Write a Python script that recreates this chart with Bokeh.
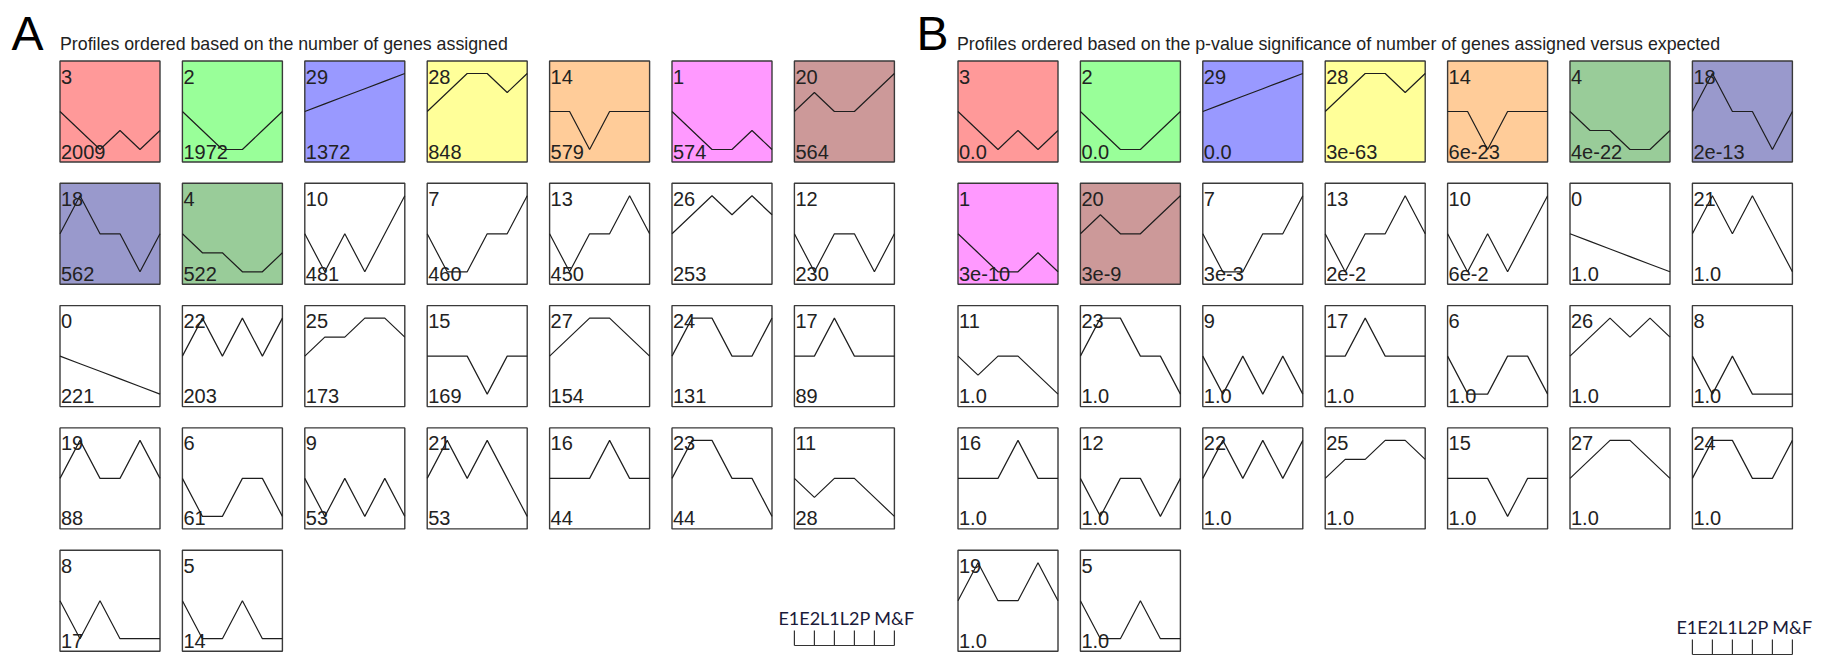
from bokeh.plotting import figure
from bokeh.models import Range1d
from bokeh.core.properties import value
from bokeh.embed import file_html
from bokeh.resources import INLINE

# ---- data -------------------------------------------------------------
TIME_LABELS = ["E1", "E2", "L1", "L2", "P", "M&F"]

# model profile shapes, indexed by profile id (6 time points each)
profile_values = [
    [0, -0.4, -0.8, -1.2, -1.6, -2],   # 0
    [0, -1, -2, -2, -1, -2],           # 1
    [0, -1, -2, -2, -1, 0],            # 2
    [0, -1, -2, -1, -2, -1],           # 3
    [0, -1, -1, -2, -2, -1],           # 4
    [0, -2, -2, 0, -2, -2],            # 5
    [0, -2, -2, 0, 0, -2],             # 6
    [0, -2, -2, 0, 0, 2],              # 7
    [0, -2, 0, -2, -2, -2],            # 8
    [0, -2, 0, -2, 0, -2],             # 9
    [0, -2, 0, -2, 0, 2],              # 10
    [0, -1, 0, 0, -1, -2],             # 11
    [0, -2, 0, 0, -2, 0],              # 12
    [0, -2, 0, 0, 2, 0],               # 13
    [0, 0, -2, 0, 0, 0],               # 14
    [0, 0, 0, -2, 0, 0],               # 15
    [0, 0, 0, 2, 0, 0],                # 16
    [0, 0, 2, 0, 0, 0],                # 17
    [0, 2, 0, 0, -2, 0],               # 18
    [0, 2, 0, 0, 2, 0],                # 19
    [0, 1, 0, 0, 1, 2],                # 20
    [0, 2, 0, 2, 0, -2],               # 21
    [0, 2, 0, 2, 0, 2],                # 22
    [0, 2, 2, 0, 0, -2],               # 23
    [0, 2, 2, 0, 0, 2],                # 24
    [0, 1, 1, 2, 2, 1],                # 25
    [0, 1, 2, 1, 2, 1],                # 26
    [0, 1, 2, 2, 1, 0],                # 27
    [0, 1, 2, 2, 1, 2],                # 28
    [0, 0.4, 0.8, 1.2, 1.6, 2],        # 29
]

# panel A: profiles ordered by number of genes assigned
order_by_genes = [3, 2, 29, 28, 14, 1, 20,
                  18, 4, 10, 7, 13, 26, 12,
                  0, 22, 25, 15, 27, 24, 17,
                  19, 6, 9, 21, 16, 23, 11,
                  8, 5]
genes_assigned = [2009, 1972, 1372, 848, 579, 574, 564,
                  562, 522, 481, 460, 450, 253, 230,
                  221, 203, 173, 169, 154, 131, 89,
                  88, 61, 53, 53, 44, 44, 28,
                  17, 14]

# panel B: profiles ordered by p-value significance
order_by_pvalue = [3, 2, 29, 28, 14, 4, 18,
                   1, 20, 7, 13, 10, 0, 21,
                   11, 23, 9, 17, 6, 26, 8,
                   16, 12, 22, 25, 15, 27, 24,
                   19, 5]
pvalues = ["0.0", "0.0", "0.0", "3e-63", "6e-23", "4e-22", "2e-13",
           "3e-10", "3e-9", "3e-3", "2e-2", "6e-2", "1.0", "1.0",
           "1.0", "1.0", "1.0", "1.0", "1.0", "1.0", "1.0",
           "1.0", "1.0", "1.0", "1.0", "1.0", "1.0", "1.0",
           "1.0", "1.0"]

# significant profiles and their cluster colours
significant_profiles = [3, 2, 29, 28, 14, 1, 20, 18, 4]
significant_colors = ["#FF9999", "#99FF99", "#9999FF", "#FFFF99", "#FFCC99",
                      "#FF99FF", "#CC9999", "#9999CC", "#99CC99"]

PANEL_LETTERS = ["A", "B"]
PANEL_TITLES = [
    "Profiles ordered based on the number of genes assigned",
    "Profiles ordered based on the p-value significance of number of genes assigned versus expected",
]

# ---- layout (page pixels) --------------------------------------------
PAGE_W, PAGE_H = 1838, 658
BOX_W, BOX_H = 100, 101
STEP_PX = BOX_W / (len(TIME_LABELS) - 1)   # px per time step
UNIT_PX = 19.0                             # px per unit of expression change
COL_PITCH, ROW_PITCH = 122.4, 122.3
PANEL_X = [59.5, 957.5]
GRID_TOP = 60.5
NCOLS = 7
LEGEND_BASE = [645, 654]


def dx(px):
    return px / STEP_PX


def dy(py):
    return -py / UNIT_PX


p = figure(width=PAGE_W, height=PAGE_H, output_backend="svg", toolbar_location=None,
           x_range=Range1d(0, dx(PAGE_W)), y_range=Range1d(dy(PAGE_H), 0),
           x_axis_location=None, y_axis_location=None, min_border=0,
           outline_line_color=None, background_fill_color="white")
p.xgrid.visible = False
p.ygrid.visible = False

color_of = dict(zip(significant_profiles, significant_colors))
FONT = value("Liberation Sans")

box = dict(left=[], right=[], top=[], bottom=[], fill=[])
lines_x, lines_y = [], []
lab = dict(x=[], y=[], text=[])

panels = [(order_by_genes, [str(g) for g in genes_assigned]),
          (order_by_pvalue, pvalues)]

for k, (order, stats) in enumerate(panels):
    for i, (pid, stat) in enumerate(zip(order, stats)):
        col, row = i % NCOLS, i // NCOLS
        left = PANEL_X[k] + col * COL_PITCH
        top = GRID_TOP + row * ROW_PITCH
        box["left"].append(dx(left))
        box["right"].append(dx(left + BOX_W))
        box["top"].append(dy(top))
        box["bottom"].append(dy(top + BOX_H))
        box["fill"].append(color_of.get(pid, "white"))
        zero = dy(top + BOX_H / 2)
        lines_x.append([dx(left) + t for t in range(len(TIME_LABELS))])
        lines_y.append([zero + v for v in profile_values[pid]])
        lab["x"] += [dx(left + 1), dx(left + 1)]
        lab["y"] += [dy(top + 15.5), dy(top + BOX_H - 10.5)]
        lab["text"] += [str(pid), stat]

p.quad(left="left", right="right", top="top", bottom="bottom", source=box,
       fill_color="fill", line_color="#3a3a3a", line_width=1.4)
p.text(x="x", y="y", text="text", source=lab, text_font=FONT, text_font_size="20px",
       text_color="#222222", text_align="left", text_baseline="alphabetic")
p.multi_line(xs=lines_x, ys=lines_y, line_color="#1e1e1e", line_width=1.2)

# panel letters and titles
p.text(x=[dx(11), dx(916)], y=[dy(33), dy(33)], text=PANEL_LETTERS, text_font=FONT,
       text_font_size="48px", text_color="black", text_baseline="alphabetic")
p.text(x=[dx(PANEL_X[0]), dx(PANEL_X[1] - 1)], y=[dy(43), dy(43)], text=PANEL_TITLES,
       text_font=FONT, text_font_size="17.8px", text_color="#222222",
       text_baseline="alphabetic")

# time-point legend under the last column of each panel
legend_text = "".join(TIME_LABELS[:-1]) + " " + TIME_LABELS[-1]
for k in range(2):
    left = PANEL_X[k] + (NCOLS - 1) * COL_PITCH
    base = LEGEND_BASE[k]
    tx = [dx(left) + t for t in range(len(TIME_LABELS))]
    p.segment(x0=tx, x1=tx, y0=[dy(base)] * len(tx), y1=[dy(base - 15)] * len(tx),
              line_color="#333333", line_width=1.2)
    p.line(x=[tx[0], tx[-1]], y=[dy(base), dy(base)], line_color="#333333", line_width=1.2)
    p.text(x=[dx(left - 16)], y=[dy(base - 28)], text=[legend_text],
           text_font=value("Lato"), text_font_size="18px", text_color="#1a1a3a",
           text_baseline="alphabetic")

open("out.html", "w").write(file_html(p, INLINE))
